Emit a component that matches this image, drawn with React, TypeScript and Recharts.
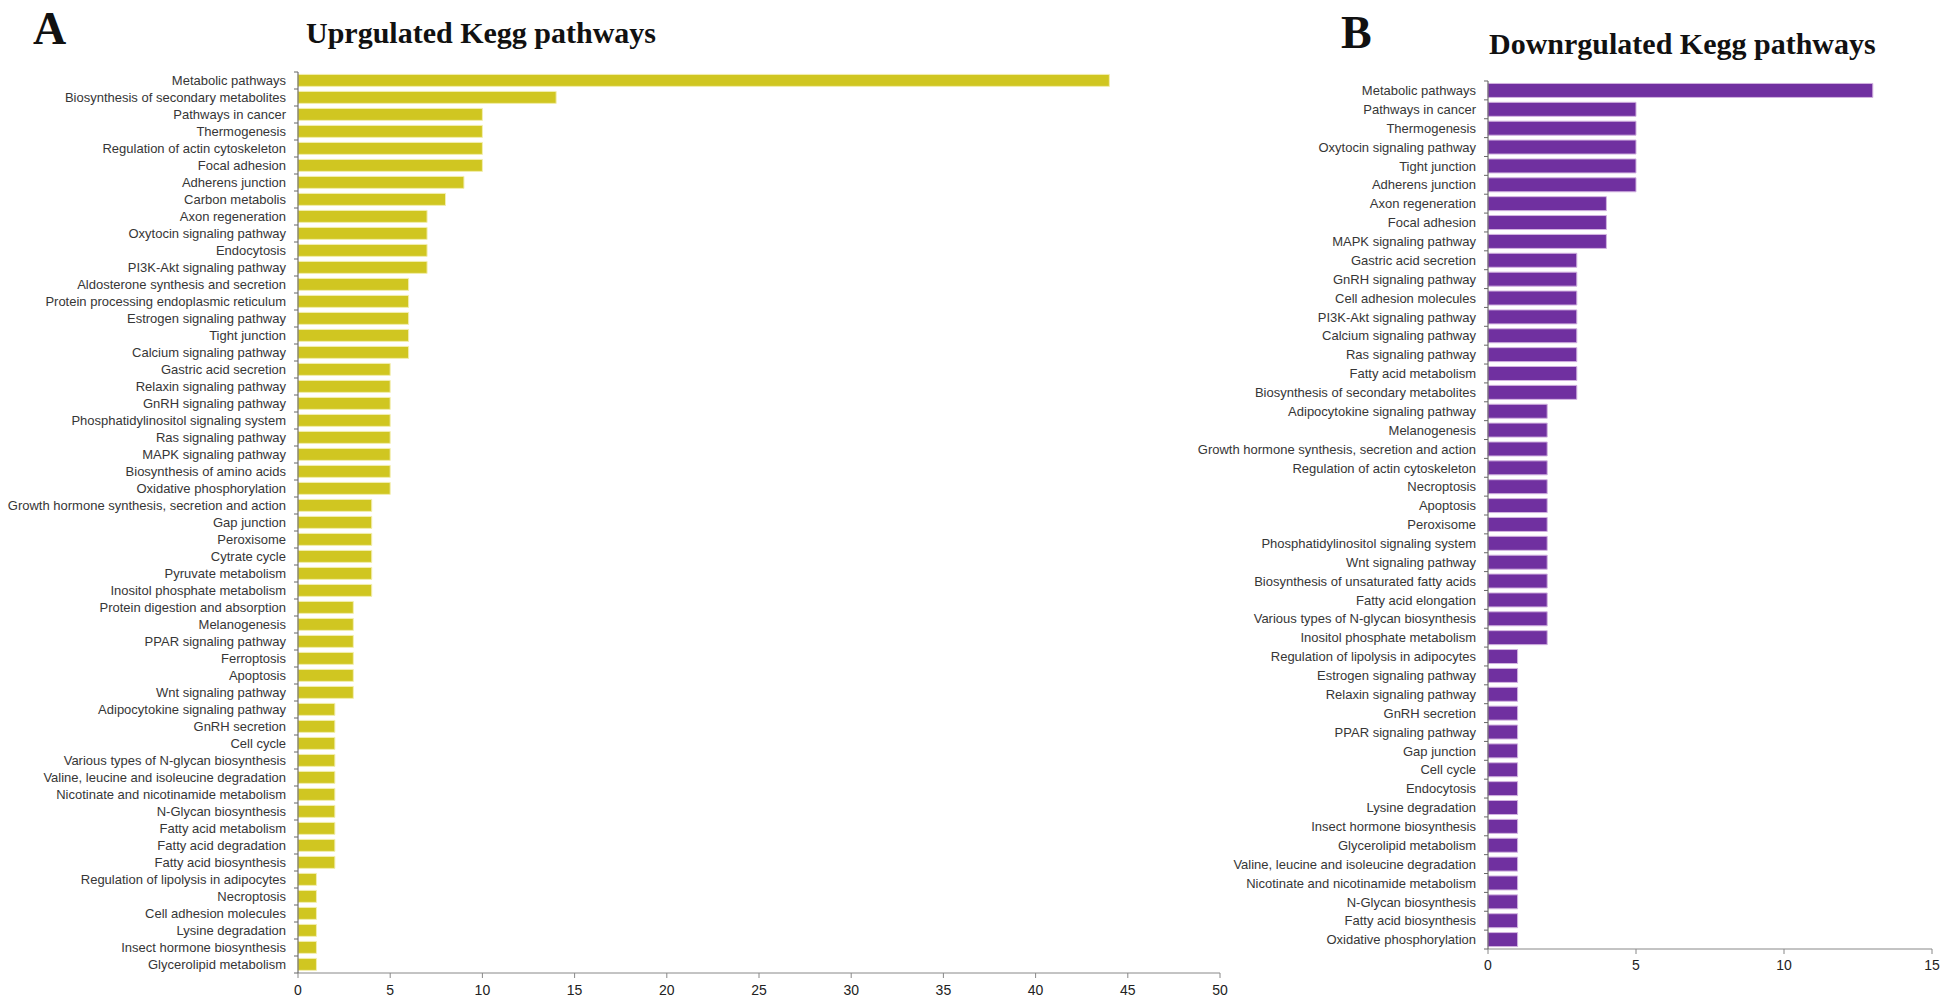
import { Bar, BarChart, XAxis, YAxis } from "recharts";

const upPathways = [
  "Metabolic pathways",
  "Biosynthesis of secondary metabolites",
  "Pathways in cancer",
  "Thermogenesis",
  "Regulation of actin cytoskeleton",
  "Focal adhesion",
  "Adherens junction",
  "Carbon metabolis",
  "Axon regeneration",
  "Oxytocin signaling pathway",
  "Endocytosis",
  "PI3K-Akt signaling pathway",
  "Aldosterone synthesis and secretion",
  "Protein processing endoplasmic reticulum",
  "Estrogen signaling pathway",
  "Tight junction",
  "Calcium signaling pathway",
  "Gastric acid secretion",
  "Relaxin signaling pathway",
  "GnRH signaling pathway",
  "Phosphatidylinositol signaling system",
  "Ras signaling pathway",
  "MAPK signaling pathway",
  "Biosynthesis of amino acids",
  "Oxidative phosphorylation",
  "Growth hormone synthesis, secretion and action",
  "Gap junction",
  "Peroxisome",
  "Cytrate cycle",
  "Pyruvate metabolism",
  "Inositol phosphate metabolism",
  "Protein digestion and absorption",
  "Melanogenesis",
  "PPAR signaling pathway",
  "Ferroptosis",
  "Apoptosis",
  "Wnt signaling pathway",
  "Adipocytokine signaling pathway",
  "GnRH secretion",
  "Cell cycle",
  "Various types of N-glycan biosynthesis",
  "Valine, leucine and isoleucine degradation",
  "Nicotinate and nicotinamide metabolism",
  "N-Glycan biosynthesis",
  "Fatty acid metabolism",
  "Fatty acid degradation",
  "Fatty acid biosynthesis",
  "Regulation of lipolysis in adipocytes",
  "Necroptosis",
  "Cell adhesion molecules",
  "Lysine degradation",
  "Insect hormone biosynthesis",
  "Glycerolipid metabolism",
];
const upCounts = [
  44, 14, 10, 10, 10, 10, 9, 8, 7, 7, 7, 7, 6, 6, 6, 6, 6, 5, 5, 5, 5, 5, 5, 5, 5, 4, 4, 4, 4, 4, 4,
  3, 3, 3, 3, 3, 3, 2, 2, 2, 2, 2, 2, 2, 2, 2, 2, 1, 1, 1, 1, 1, 1,
];

const downPathways = [
  "Metabolic pathways",
  "Pathways in cancer",
  "Thermogenesis",
  "Oxytocin signaling pathway",
  "Tight junction",
  "Adherens junction",
  "Axon regeneration",
  "Focal adhesion",
  "MAPK signaling pathway",
  "Gastric acid secretion",
  "GnRH signaling pathway",
  "Cell adhesion molecules",
  "PI3K-Akt signaling pathway",
  "Calcium signaling pathway",
  "Ras signaling pathway",
  "Fatty acid metabolism",
  "Biosynthesis of secondary metabolites",
  "Adipocytokine signaling pathway",
  "Melanogenesis",
  "Growth hormone synthesis, secretion and action",
  "Regulation of actin cytoskeleton",
  "Necroptosis",
  "Apoptosis",
  "Peroxisome",
  "Phosphatidylinositol signaling system",
  "Wnt signaling pathway",
  "Biosynthesis of unsaturated fatty acids",
  "Fatty acid elongation",
  "Various types of N-glycan biosynthesis",
  "Inositol phosphate metabolism",
  "Regulation of lipolysis in adipocytes",
  "Estrogen signaling pathway",
  "Relaxin signaling pathway",
  "GnRH secretion",
  "PPAR signaling pathway",
  "Gap junction",
  "Cell cycle",
  "Endocytosis",
  "Lysine degradation",
  "Insect hormone biosynthesis",
  "Glycerolipid metabolism",
  "Valine, leucine and isoleucine degradation",
  "Nicotinate and nicotinamide metabolism",
  "N-Glycan biosynthesis",
  "Fatty acid biosynthesis",
  "Oxidative phosphorylation",
];
const downCounts = [
  13, 5, 5, 5, 5, 5, 4, 4, 4, 3, 3, 3, 3, 3, 3, 3, 3, 2, 2, 2, 2, 2, 2, 2, 2, 2, 2, 2, 2, 2,
  1, 1, 1, 1, 1, 1, 1, 1, 1, 1, 1, 1, 1, 1, 1, 1,
];

const upTicks = [0, 5, 10, 15, 20, 25, 30, 35, 40, 45, 50];
const downTicks = [0, 5, 10, 15];

const upData = upPathways.map((name, i) => ({ name, count: upCounts[i] }));
const downData = downPathways.map((name, i) => ({ name, count: downCounts[i] }));

const sans = "'Liberation Sans', Arial, sans-serif";
const serif = "'Liberation Serif', 'Times New Roman', serif";

// Excel-style category ticks sit on the band boundaries, not the centres
function PathwayTick(props: any) {
  const { x, y, payload, index, band } = props;
  const half = band / 2;
  return (
    <g>
      <text x={x} y={y} dy="0.36em" textAnchor="end" fontSize={13} fill="#363636" fontFamily={sans}>
        {payload.value}
      </text>
      {index === 0 && <line x1={x + 8} x2={x + 12} y1={y - half} y2={y - half} stroke="#666" />}
      <line x1={x + 8} x2={x + 12} y1={y + half} y2={y + half} stroke="#666" />
    </g>
  );
}

export default function App() {
  return (
    <div style={{ position: "absolute", left: 0, top: 0, width: 1944, height: 1000, background: "#fff" }}>
      <div style={{ position: "absolute", left: 0, top: 0 }}>
        <BarChart
          width={1245}
          height={1000}
          data={upData}
          layout="vertical"
          barCategoryGap="14%"
          margin={{ top: 72, right: 25, bottom: 0, left: 0 }}
        >
          <XAxis
            type="number"
            domain={[0, 50]}
            ticks={upTicks}
            interval={0}
            height={27}
            tickSize={5}
            tickMargin={7}
            axisLine={{ stroke: "#888" }}
            tickLine={{ stroke: "#888" }}
            tick={{ fontSize: 14, fill: "#222", fontFamily: sans }}
          />
          <YAxis
            type="category"
            dataKey="name"
            width={298}
            interval={0}
            tickSize={6}
            tickMargin={6}
            tickLine={false}
            axisLine={{ stroke: "#555" }}
            tick={(p: any) => <PathwayTick {...p} band={17} />}
          />
          <Bar dataKey="count" fill="#d0c621" stroke="#f3eeb0" strokeWidth={1} isAnimationActive={false} />
        </BarChart>
      </div>
      <div style={{ position: "absolute", left: 1180, top: 0 }}>
        <BarChart
          width={764}
          height={1000}
          data={downData}
          layout="vertical"
          barCategoryGap="13%"
          margin={{ top: 81, right: 12, bottom: 21, left: 0 }}
        >
          <XAxis
            type="number"
            domain={[0, 15]}
            ticks={downTicks}
            interval={0}
            height={30}
            tickSize={5}
            tickMargin={6}
            axisLine={{ stroke: "#888" }}
            tickLine={{ stroke: "#888" }}
            tick={{ fontSize: 14, fill: "#222", fontFamily: sans }}
          />
          <YAxis
            type="category"
            dataKey="name"
            width={308}
            interval={0}
            tickSize={6}
            tickMargin={6}
            tickLine={false}
            axisLine={{ stroke: "#555" }}
            tick={(p: any) => <PathwayTick {...p} band={18.87} />}
          />
          <Bar dataKey="count" fill="#7030a0" stroke="#d2b3e0" strokeWidth={1} isAnimationActive={false} />
        </BarChart>
      </div>
      <svg
        width={1944}
        height={1000}
        style={{ position: "absolute", left: 0, top: 0, pointerEvents: "none" }}
      >
        <text x={33} y={44} fontSize={46} fontWeight="bold" fontFamily={serif} fill="#111">
          A
        </text>
        <text x={306} y={43} fontSize={30} fontWeight="bold" fontFamily={serif} fill="#111">
          Uprgulated Kegg pathways
        </text>
        <text x={1341} y={48} fontSize={46} fontWeight="bold" fontFamily={serif} fill="#111">
          B
        </text>
        <text x={1489} y={54} fontSize={30} fontWeight="bold" fontFamily={serif} fill="#111">
          Downrgulated Kegg pathways
        </text>
      </svg>
    </div>
  );
}
